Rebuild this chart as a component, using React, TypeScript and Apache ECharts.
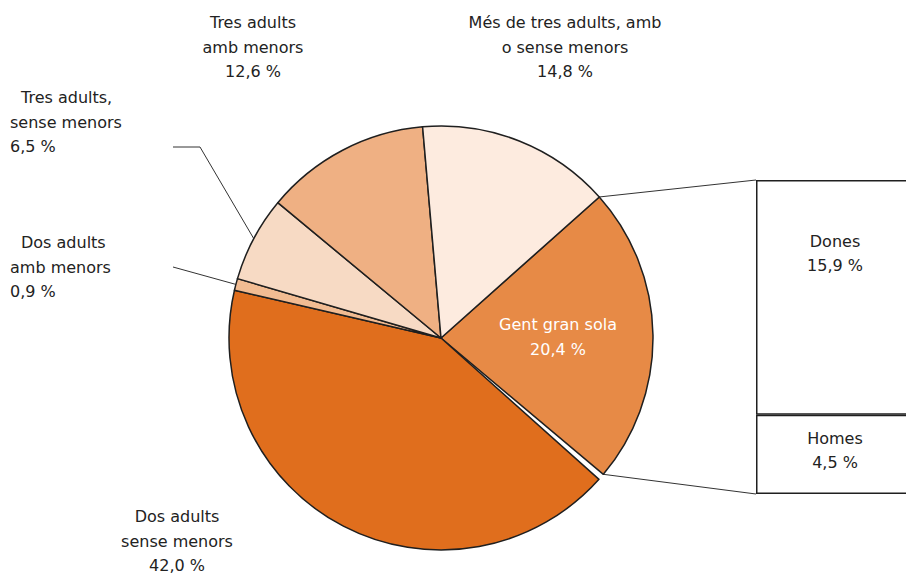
import React, { useEffect, useRef } from 'react';
import * as echarts from 'echarts';

// ---- data ----
const sliceNames = [
  'Gent gran sola',
  'Dos adults sense menors',
  'Dos adults amb menors',
  'Tres adults, sense menors',
  'Tres adults amb menors',
  'Més de tres adults, amb o sense menors',
];
const sliceLabelLines = [
  ['Gent gran sola'],
  ['Dos adults', 'sense menors'],
  ['Dos adults', 'amb menors'],
  ['Tres adults,', 'sense menors'],
  ['Tres adults', 'amb menors'],
  ['Més de tres adults, amb', 'o sense menors'],
];
// percentages printed in the labels
const slicePercent = [20.4, 42.0, 0.9, 6.5, 12.6, 14.8];
// angular shares as drawn in the picture
const sliceShares = [22.7, 42.0, 0.9, 6.5, 12.6, 14.8];
const gapShare = 0.5;
const sliceColors = ['#E78A46', '#E06E1D', '#F2BC92', '#F7DAC4', '#EFB083', '#FDEBDF'];

const barNames = ['Homes', 'Dones'];
const barPercent = [4.5, 15.9];
const barShares = [5.8, 17.2];

// ---- layout ----
const FONT = 'DejaVu Sans';
const TEXT = '#222222';
const PIE_CX = 441;
const PIE_CY = 338;
const PIE_R = 212;
const START = 41.7;
const GRID_LEFT = 756;
const GRID_TOP = 180;
const GRID_W = 158;
const GRID_H = 314;

type Spot = { x: number; y: number; align: 'left' | 'center'; indent?: boolean; lineEnd?: number[]; bend?: number[] };
const labelSpots: Spot[] = [
  { x: 558, y: 337, align: 'center' },
  { x: 177, y: 541, align: 'center' },
  { x: 10, y: 267, align: 'left', indent: true, lineEnd: [173, 267] },
  { x: 10, y: 122, align: 'left', indent: true, lineEnd: [173, 147], bend: [200, 147] },
  { x: 253, y: 47, align: 'center' },
  { x: 565, y: 47, align: 'center' },
];

const fmt = (v: number) => v.toFixed(1).replace('.', ',') + ' %';

export default function App() {
  const ref = useRef<HTMLDivElement>(null);
  useEffect(() => {
    if (!ref.current) return;
    const chart = echarts.init(ref.current, undefined, { renderer: 'svg' });

    const total = sliceShares.reduce((a, b) => a + b, 0) + gapShare;
    const cumBefore: number[] = [];
    let acc = 0;
    sliceShares.forEach((s, i) => {
      cumBefore.push(acc);
      acc += s;
      if (i === 0) acc += gapShare;
    });
    const angleAt = (share: number) => ((START - (share / total) * 360) * Math.PI) / 180;
    const pt = (a: number) => [PIE_CX + PIE_R * Math.cos(a), PIE_CY - PIE_R * Math.sin(a)];

    const rich = {
      t: { fontFamily: FONT, fontSize: 16, lineHeight: 24.5, color: TEXT },
      i: { fontFamily: FONT, fontSize: 16, lineHeight: 24.5, color: TEXT, padding: [0, 0, 0, 11] },
      w: { fontFamily: FONT, fontSize: 16, lineHeight: 24.5, color: '#ffffff' },
    };

    const pieData: any[] = [];
    sliceNames.forEach((n, i) => {
      const spot = labelSpots[i];
      const lines = [...sliceLabelLines[i], fmt(slicePercent[i])];
      const txt = lines
        .map((l, k) => {
          const st = i === 0 ? 'w' : spot.indent && k === 0 ? 'i' : 't';
          return `{${st}|${l}}`;
        })
        .join('\n');
      pieData.push({
        name: n,
        value: sliceShares[i],
        itemStyle: { color: sliceColors[i] },
        label: { formatter: () => txt, position: i === 0 ? 'inside' : 'outside' },
        labelLine: { show: !!spot.lineEnd },
      });
      if (i === 0) {
        pieData.push({
          name: '',
          value: gapShare,
          itemStyle: { color: 'rgba(0,0,0,0)', borderWidth: 0 },
          label: { show: false },
          labelLine: { show: false },
        });
      }
    });

    const gentStart = pt(angleAt(0));
    const gentEnd = pt(angleAt(sliceShares[0]));

    const barTotal = barShares.reduce((a, b) => a + b, 0);

    chart.setOption({
      animation: false,
      textStyle: { fontFamily: FONT },
      grid: { left: GRID_LEFT, top: GRID_TOP, width: GRID_W, height: GRID_H },
      xAxis: { type: 'category', data: ['bar'], show: false },
      yAxis: { type: 'value', min: 0, max: barTotal, show: false },
      graphic: [
        {
          type: 'line',
          silent: true,
          shape: { x1: gentStart[0], y1: gentStart[1], x2: GRID_LEFT, y2: GRID_TOP },
          style: { stroke: '#333', lineWidth: 1 },
        },
        {
          type: 'line',
          silent: true,
          shape: { x1: gentEnd[0], y1: gentEnd[1], x2: GRID_LEFT, y2: GRID_TOP + GRID_H },
          style: { stroke: '#333', lineWidth: 1 },
        },
      ],
      series: [
        {
          type: 'pie',
          silent: true,
          center: [PIE_CX, PIE_CY],
          radius: PIE_R,
          startAngle: START,
          clockwise: true,
          avoidLabelOverlap: false,
          itemStyle: { borderColor: '#1f1f1f', borderWidth: 1.5 },
          label: { show: true, rich },
          labelLine: { lineStyle: { color: '#333', width: 1 } },
          labelLayout: (p: any) => {
            const di = p.dataIndex;
            if (di === 1) return {};
            const si = di === 0 ? 0 : di - 1;
            const spot = labelSpots[si];
            const res: any = { x: spot.x, y: spot.y, align: spot.align, verticalAlign: 'middle' };
            if (spot.lineEnd) {
              const mid = pt(angleAt(cumBefore[si] + sliceShares[si] / 2));
              res.labelLinePoints = [mid, spot.bend || spot.lineEnd, spot.lineEnd];
            }
            return res;
          },
          data: pieData,
        },
        ...barNames.map((n, i) => ({
          type: 'bar',
          name: n,
          stack: 'g',
          silent: true,
          barWidth: '100%',
          data: [barShares[i]],
          itemStyle: { color: '#ffffff', borderColor: '#1f1f1f', borderWidth: 1.5 },
          label: {
            show: true,
            position: 'insideTop',
            distance: i === 0 ? 11 : 49,
            formatter: () => `{t|${n}}\n{t|${fmt(barPercent[i])}}`,
            rich,
          },
        })),
      ],
    });
    return () => chart.dispose();
  }, []);
  return (
    <div style={{ position: 'absolute', left: 0, top: 0, width: 906, height: 574, overflow: 'hidden' }}>
      <div ref={ref} style={{ width: 940, height: 574 }} />
    </div>
  );
}
